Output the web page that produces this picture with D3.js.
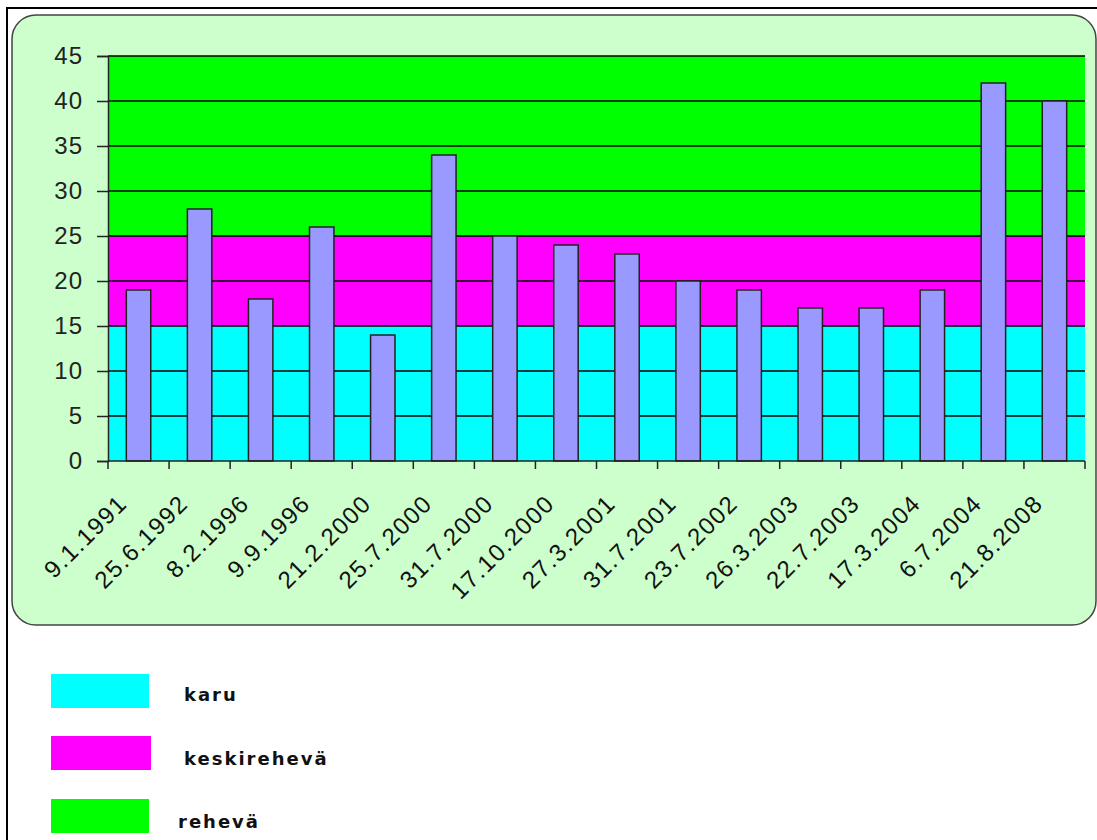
<!DOCTYPE html>
<html>
<head>
<meta charset="utf-8">
<script src="https://cdn.jsdelivr.net/npm/d3@7"></script>
<style>
  body { margin: 0; background: #fff; }
  svg { display: block; }
</style>
</head>
<body>
<svg id="chart" width="1097" height="840"></svg>
<script>
const width = 1097;
const height = 840;

// data
const dates = ["9.1.1991", "25.6.1992", "8.2.1996", "9.9.1996", "21.2.2000", "25.7.2000",
    "31.7.2000", "17.10.2000", "27.3.2001", "31.7.2001", "23.7.2002", "26.3.2003",
    "22.7.2003", "17.3.2004", "6.7.2004", "21.8.2008"];
const values = [19, 28, 18, 26, 14, 34, 25, 24, 23, 20, 19, 17, 17, 19, 42, 40];
const yTicks = [0, 5, 10, 15, 20, 25, 30, 35, 40, 45];

// background classes
const bandNames = ["karu", "keskirehevä", "rehevä"];
const bandLow = [0, 15, 25];
const bandHigh = [15, 25, 45];
const bandColors = ["#00FFFF", "#FF00FF", "#00FF00"];

const svg = d3.select("#chart");

// outer frame
svg.append("rect")
    .attr("x", 7).attr("y", 8)
    .attr("width", width + 10).attr("height", height + 10)
    .attr("fill", "none")
    .attr("stroke", "#000")
    .attr("stroke-width", 2);

// chart panel
svg.append("rect")
    .attr("x", 12).attr("y", 15)
    .attr("width", 1084).attr("height", 610)
    .attr("rx", 24).attr("ry", 24)
    .attr("fill", "#CCFFCC")
    .attr("stroke", "#444")
    .attr("stroke-width", 1.5);

const plot = { left: 108, right: 1085, top: 56, bottom: 461 };

const x = d3.scaleBand()
    .domain(dates)
    .range([plot.left, plot.right])
    .paddingInner(0)
    .paddingOuter(0);

const y = d3.scaleLinear()
    .domain([0, 45])
    .range([plot.bottom, plot.top]);

// coloured bands
svg.append("g").selectAll("rect")
    .data(bandNames)
    .join("rect")
    .attr("x", plot.left)
    .attr("width", plot.right - plot.left)
    .attr("y", (d, i) => y(bandHigh[i]))
    .attr("height", (d, i) => y(bandLow[i]) - y(bandHigh[i]))
    .attr("fill", (d, i) => bandColors[i]);

// gridlines
svg.append("g").selectAll("line")
    .data(yTicks.slice(1))
    .join("line")
    .attr("x1", plot.left).attr("x2", plot.right)
    .attr("y1", d => y(d)).attr("y2", d => y(d))
    .attr("stroke", "#000")
    .attr("stroke-width", 1.5);

// bars
const bw = x.bandwidth() * 0.4;
svg.append("g").selectAll("rect")
    .data(values)
    .join("rect")
    .attr("x", (d, i) => x(dates[i]) + (x.bandwidth() - bw) / 2)
    .attr("width", bw)
    .attr("y", d => y(d))
    .attr("height", d => y(0) - y(d))
    .attr("fill", "#9999FF")
    .attr("stroke", "#222")
    .attr("stroke-width", 1.5);

// y axis
const yAxis = svg.append("g")
    .attr("transform", `translate(${plot.left},0)`)
    .call(d3.axisLeft(y).tickValues(yTicks).tickSize(11).tickPadding(14));
yAxis.select(".domain").attr("stroke", "#222").attr("stroke-width", 1.5);
yAxis.selectAll(".tick line").attr("stroke", "#222").attr("stroke-width", 1.5);
yAxis.selectAll("text")
    .attr("font-family", "Liberation Sans, Arial, sans-serif")
    .attr("font-size", "24px")
    .attr("letter-spacing", "1px")
    .attr("fill", "#222");

// x axis: ticks on category boundaries
const xAxis = svg.append("g")
    .attr("transform", `translate(0,${plot.bottom})`);
xAxis.append("line")
    .attr("x1", plot.left).attr("x2", plot.right)
    .attr("stroke", "#222").attr("stroke-width", 1.5);
const bounds = dates.map(d => x(d)).concat([plot.right]);
xAxis.selectAll(".xtick")
    .data(bounds)
    .join("line")
    .attr("class", "xtick")
    .attr("x1", d => d).attr("x2", d => d)
    .attr("y1", 0).attr("y2", 8)
    .attr("stroke", "#222").attr("stroke-width", 1.5);
xAxis.selectAll(".xlabel")
    .data(dates)
    .join("text")
    .attr("class", "xlabel")
    .attr("transform", d => `translate(${x(d) + x.bandwidth() / 2 - 10},${44}) rotate(-45)`)
    .attr("text-anchor", "end")
    .attr("font-family", "Liberation Sans, Arial, sans-serif")
    .attr("font-size", "24px")
    .attr("letter-spacing", "1.5px")
    .attr("fill", "#111")
    .text(d => d);

// legend
const legendY = [674, 736, 799];
const legendTextX = [184, 184, 178];
const legendBase = [701, 765, 828];
const legend = svg.append("g");
legend.selectAll("rect")
    .data(bandNames)
    .join("rect")
    .attr("x", 51)
    .attr("y", (d, i) => legendY[i])
    .attr("width", (d, i) => i === 1 ? 100 : 98)
    .attr("height", 34)
    .attr("fill", (d, i) => bandColors[i]);
legend.selectAll("text")
    .data(bandNames)
    .join("text")
    .attr("x", (d, i) => legendTextX[i])
    .attr("y", (d, i) => legendBase[i])
    .attr("font-family", "DejaVu Sans, sans-serif")
    .attr("font-weight", "bold")
    .attr("font-size", "18px")
    .attr("letter-spacing", "2px")
    .attr("fill", "#111")
    .text(d => d);
</script>
</body>
</html>
